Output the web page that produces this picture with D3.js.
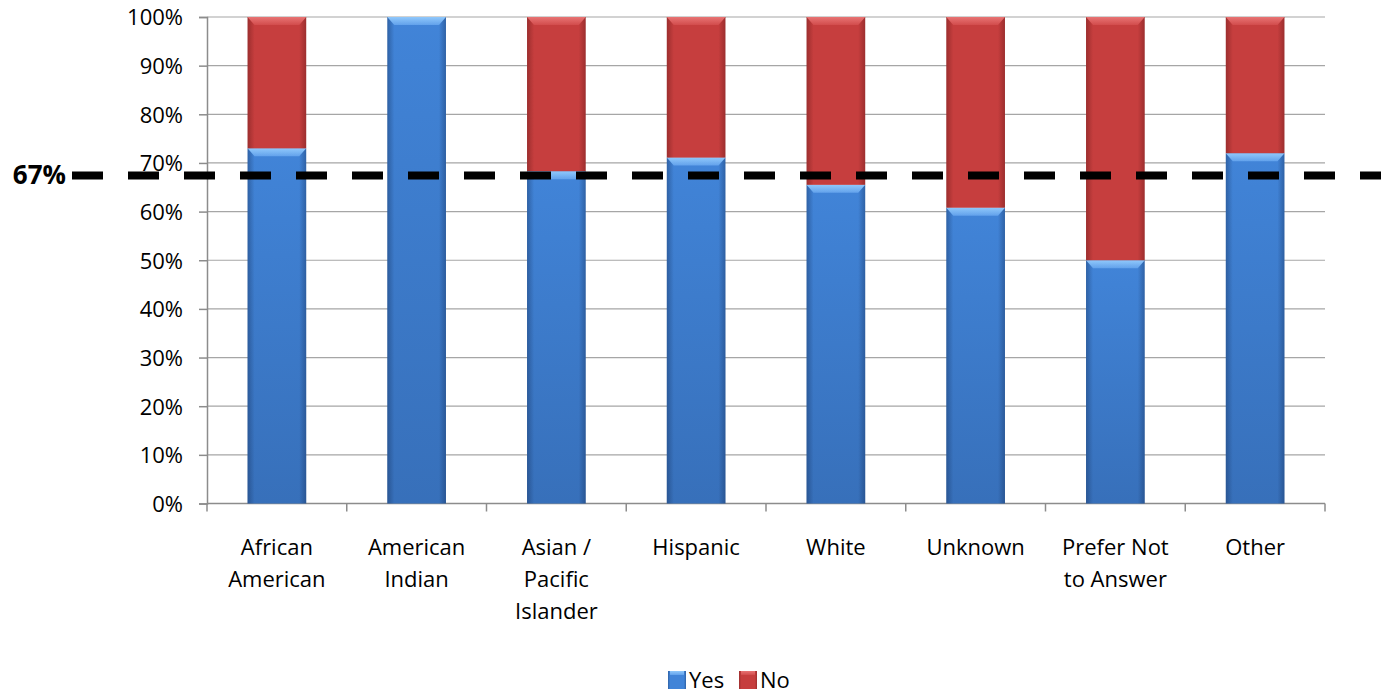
<!DOCTYPE html>
<html>
<head>
<meta charset="utf-8">
<script src="https://cdn.jsdelivr.net/npm/d3@7"></script>
<style>
  html, body { margin: 0; padding: 0; background: #ffffff; }
  svg { display: block; }
  text { font-family: "Open Sans", "Lato", sans-serif; fill: #000; }
</style>
</head>
<body>
<svg id="chart" width="1381" height="694"></svg>
<script>
// ---- data ----
const categories = [
  ["African", "American"],
  ["American", "Indian"],
  ["Asian /", "Pacific", "Islander"],
  ["Hispanic"],
  ["White"],
  ["Unknown"],
  ["Prefer Not", "to Answer"],
  ["Other"]
];
const yesValues = [73, 100, 68.3, 71.1, 65.5, 60.8, 50, 72.0];
const noValues  = [27, 0, 31.7, 28.9, 34.5, 39.2, 50, 28.0];
const seriesNames = ["Yes", "No"];
const yTicks = [0, 10, 20, 30, 40, 50, 60, 70, 80, 90, 100];
const targetValue = 67.4;
const targetLabel = "67%";

// ---- layout ----
const svg = d3.select("#chart");
const plotLeft = 207, plotRight = 1325, plotTop = 17, plotBottom = 503.5;
const fontSize = "22px";

const x = d3.scaleBand()
  .domain(d3.range(categories.length))
  .range([plotLeft, plotRight])
  .paddingInner(0.58)
  .paddingOuter(0.29);
const y = d3.scaleLinear().domain([0, 100]).range([plotBottom, plotTop]);

// ---- gradients ----
const defs = svg.append("defs");
function hGrad(id, edge, mid) {
  const g = defs.append("linearGradient").attr("id", id)
    .attr("x1", "0%").attr("x2", "100%").attr("y1", "0%").attr("y2", "0%");
  g.append("stop").attr("offset", "0%").attr("stop-color", edge);
  g.append("stop").attr("offset", "12%").attr("stop-color", mid);
  g.append("stop").attr("offset", "88%").attr("stop-color", mid);
  g.append("stop").attr("offset", "100%").attr("stop-color", edge);
}
function vGrad(id, c1, c2) {
  const g = defs.append("linearGradient").attr("id", id)
    .attr("x1", "0%").attr("x2", "0%").attr("y1", "0%").attr("y2", "100%");
  g.append("stop").attr("offset", "0%").attr("stop-color", c1);
  g.append("stop").attr("offset", "100%").attr("stop-color", c2);
}
hGrad("blueBody", "#2f62a6", "#4184d8");
hGrad("redBody", "#9c2e2e", "#c63e3e");
vGrad("blueTop", "#90c8fb", "#62a2ec");
vGrad("redTop", "#e87474", "#d24c4c");
vGrad("blueShade", "rgba(20,40,80,0)", "rgba(20,40,80,0.22)");

// ---- gridlines & axes ----
const grid = svg.append("g");
grid.selectAll("line").data(yTicks).join("line")
  .attr("x1", plotLeft).attr("x2", plotRight)
  .attr("y1", d => y(d)).attr("y2", d => y(d))
  .attr("stroke", "#a6a6a6").attr("stroke-width", 1.2);

const yAxis = d3.axisLeft(y).tickValues(yTicks).tickSize(8).tickFormat(d => d + "%");
const ya = svg.append("g").attr("transform", `translate(${plotLeft},0)`).call(yAxis);
ya.select(".domain").attr("stroke", "#8c8c8c").attr("stroke-width", 1.5);
ya.selectAll(".tick line").attr("stroke", "#8c8c8c").attr("stroke-width", 1.5);
ya.selectAll(".tick text")
  .attr("x", -24).attr("dy", "0.36em")
  .style("font-size", fontSize).style("font-family", "'Open Sans', sans-serif").attr("fill", "#000");

// x axis baseline + ticks at band boundaries
const boundaries = d3.range(categories.length + 1).map(i => plotLeft + i * (plotRight - plotLeft) / categories.length);
svg.append("line").attr("x1", plotLeft).attr("x2", plotRight).attr("y1", plotBottom).attr("y2", plotBottom)
  .attr("stroke", "#8c8c8c").attr("stroke-width", 1.5);
svg.append("g").selectAll("line").data(boundaries).join("line")
  .attr("x1", d => d).attr("x2", d => d).attr("y1", plotBottom).attr("y2", plotBottom + 8)
  .attr("stroke", "#8c8c8c").attr("stroke-width", 1.5);

// category labels
const lab = svg.append("g");
categories.forEach((lines, i) => {
  const cx = x(i) + x.bandwidth() / 2;
  const t = lab.append("text")
    .attr("text-anchor", "middle")
    .attr("x", cx)
    .attr("y", 555)
    .style("font-size", fontSize);
  lines.forEach((ln, j) => {
    t.append("tspan").attr("x", cx).attr("y", 555 + j * 32).text(ln);
  });
});

// ---- bars ----
function drawSegment(g, x0, w, yTop, yBot, body, topFill) {
  const h = yBot - yTop;
  if (h <= 0) return;
  g.append("rect").attr("x", x0).attr("y", yTop).attr("width", w).attr("height", h)
    .attr("fill", `url(#${body})`);
  const b = Math.min(8, h);
  g.append("path")
    .attr("d", `M${x0},${yTop} L${x0 + w},${yTop} L${x0 + w - 7},${yTop + b} L${x0 + 7},${yTop + b} Z`)
    .attr("fill", `url(#${topFill})`);
}
const bars = svg.append("g");
categories.forEach((c, i) => {
  const x0 = x(i), w = x.bandwidth();
  const yes = yesValues[i], no = noValues[i];
  drawSegment(bars, x0, w, y(yes), y(0), "blueBody", "blueTop");
  bars.append("rect").attr("x", x0).attr("y", y(yes)).attr("width", w).attr("height", y(0) - y(yes))
    .attr("fill", "url(#blueShade)");
  drawSegment(bars, x0, w, y(yes + no), y(yes), "redBody", "redTop");
});

// ---- target dashed line ----
svg.append("line")
  .attr("x1", 72).attr("x2", 1381)
  .attr("y1", y(targetValue)).attr("y2", y(targetValue))
  .attr("stroke", "#000").attr("stroke-width", 8)
  .attr("stroke-dasharray", "31 25");
svg.append("text")
  .attr("x", 66).attr("y", y(targetValue) + 8.5)
  .attr("text-anchor", "end")
  .style("font-size", "26px").style("font-weight", "bold")
  .text(targetLabel);

// ---- legend ----
const legend = svg.append("g");
const legItems = [
  { name: seriesNames[0], body: "blueBody", topFill: "blueTop", lx: 668 },
  { name: seriesNames[1], body: "redBody", topFill: "redTop", lx: 739 }
];
legItems.forEach(it => {
  legend.append("rect").attr("x", it.lx).attr("y", 671).attr("width", 18).attr("height", 18)
    .attr("fill", `url(#${it.body})`);
  legend.append("rect").attr("x", it.lx + 2).attr("y", 671).attr("width", 14).attr("height", 4)
    .attr("fill", `url(#${it.topFill})`);
  legend.append("text").attr("x", it.lx + 21).attr("y", 688)
    .style("font-size", fontSize).text(it.name);
});
</script>
</body>
</html>
